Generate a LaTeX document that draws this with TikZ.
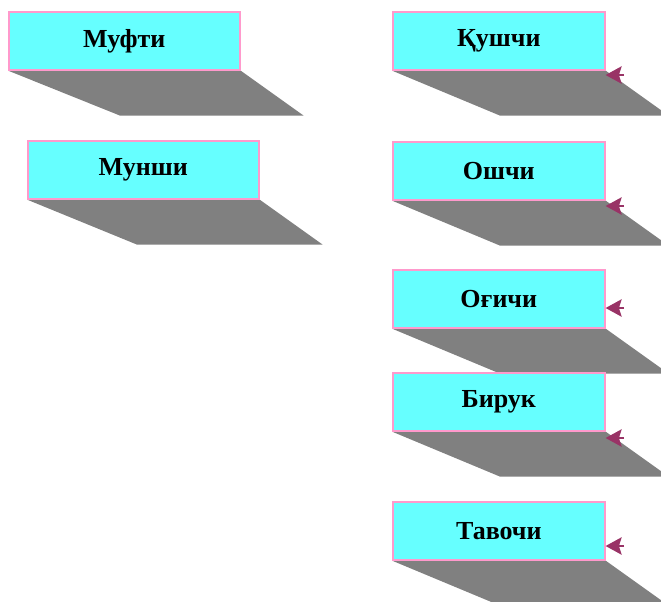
\documentclass[tikz,border=0pt]{standalone}
\usepackage{fontspec}
\setmainfont{Liberation Serif}
\usetikzlibrary{arrows.meta,backgrounds}
\definecolor{boxcyan}{HTML}{66FFFF}
\definecolor{boxpink}{HTML}{FF99CC}
\definecolor{shadegray}{HTML}{808080}
\definecolor{arrplum}{HTML}{993366}
\tikzset{
  titlebox/.style={draw=boxpink, line width=1.2pt, fill=boxcyan, anchor=north west,
    inner sep=0pt, minimum height=58*0.75pt, font=\fontsize{19.5}{22}\selectfont\bfseries},
  widebox/.style={titlebox, minimum width=231*0.75pt},
  narrowbox/.style={titlebox, minimum width=212*0.75pt},
  pointer/.style={draw=arrplum, line width=1.5pt, -{Stealth[length=12pt,width=13pt,inset=2pt]}}
}
\begin{document}
\begin{tikzpicture}[x=0.75pt,y=-0.75pt]
\path[use as bounding box] (0,0) rectangle (661,601);

\node[widebox] (mufti) at (8,11) {Муфти};
\node[widebox] (munshi) at (27,140) {Мунши};

\node[narrowbox] (qushchi) at (392,11) {Қушчи};
\node[narrowbox] (oshchi) at (392,141) {Ошчи};
\node[narrowbox] (ogichi) at (392,269) {Оғичи};
\node[narrowbox] (biruk) at (392,372) {Бирук};
\node[narrowbox] (tavochi) at (392,501) {Тавочи};

% shadows
\begin{scope}[on background layer]
\fill[shadegray] (mufti.south west) -- (mufti.south east) -- ++(63,45) -- ([shift={(112,45)}]mufti.south west) -- cycle;
\fill[shadegray] (munshi.south west) -- (munshi.south east) -- ++(63,45) -- ([shift={(110,45)}]munshi.south west) -- cycle;
\fill[shadegray] (qushchi.south west) -- (qushchi.south east) -- ++(63,45) -- ([shift={(108,45)}]qushchi.south west) -- cycle;
\fill[shadegray] (oshchi.south west) -- (oshchi.south east) -- ++(63,45) -- ([shift={(108,45)}]oshchi.south west) -- cycle;
\fill[shadegray] (ogichi.south west) -- (ogichi.south east) -- ++(63,45) -- ([shift={(108,45)}]ogichi.south west) -- cycle;
\fill[shadegray] (biruk.south west) -- (biruk.south east) -- ++(63,45) -- ([shift={(108,45)}]biruk.south west) -- cycle;
\fill[shadegray] (tavochi.south west) -- (tavochi.south east) -- ++(63,45) -- ([shift={(108,45)}]tavochi.south west) -- cycle;
\end{scope}

\coordinate (qt) at (624,75);
\coordinate (ot) at (624,206);
\coordinate (gt) at (624,308);
\coordinate (bt) at (624,438);
\coordinate (tt) at (624,546);
\path[pointer] (qt) -- (qt -| qushchi.east);
\path[pointer] (ot) -- (ot -| oshchi.east);
\path[pointer] (gt) -- (gt -| ogichi.east);
\path[pointer] (bt) -- (bt -| biruk.east);
\path[pointer] (tt) -- (tt -| tavochi.east);
\end{tikzpicture}
\end{document}
